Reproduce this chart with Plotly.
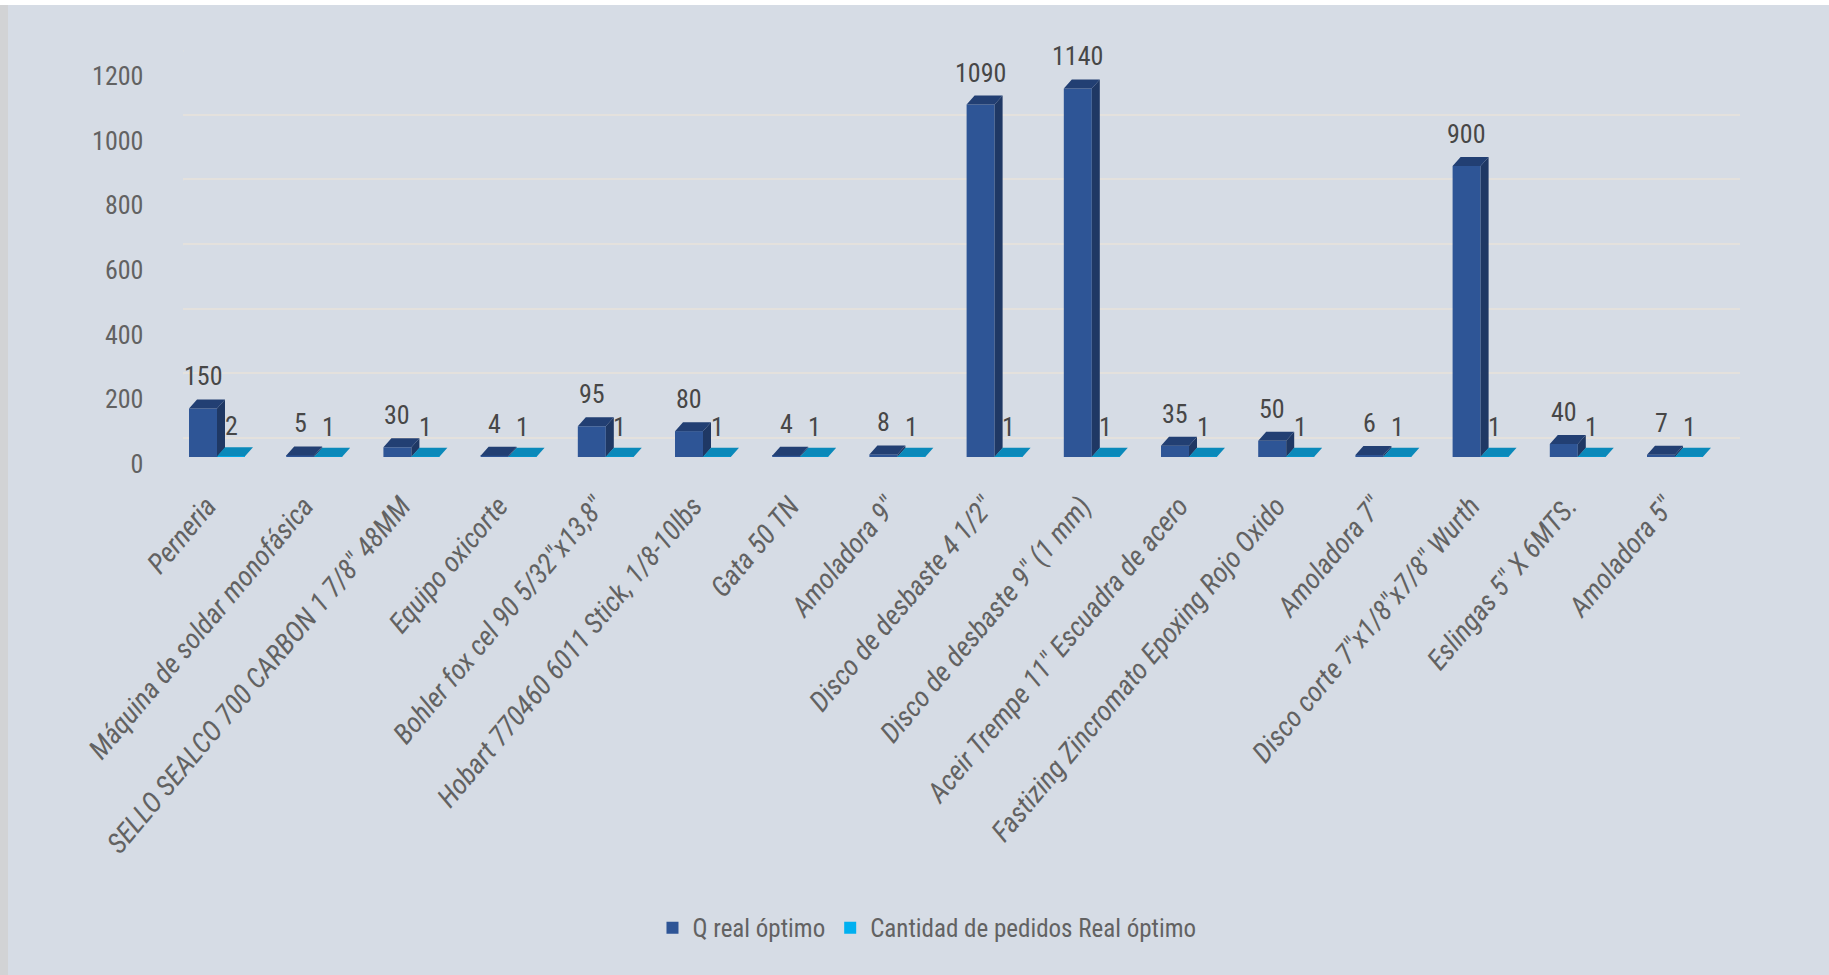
import plotly.graph_objects as go

# ---------------- data ----------------
categories = [
    "Perneria",
    "Máquina de soldar monofásica",
    'SELLO SEALCO 700 CARBON 1 7/8" 48MM',
    "Equipo oxicorte",
    'Bohler fox cel 90 5/32"x13,8"',
    "Hobart 770460 6011 Stick, 1/8-10lbs",
    "Gata 50 TN",
    'Amoladora 9"',
    'Disco de desbaste 4 1/2"',
    'Disco de desbaste 9" (1 mm)',
    'Aceir Trempe 11" Escuadra de acero',
    "Fastizing Zincromato Epoxing Rojo Oxido",
    'Amoladora 7"',
    'Disco corte 7"x1/8"x7/8" Wurth',
    'Eslingas 5" X 6MTS.',
    'Amoladora 5"',
]
q_real = [150, 5, 30, 4, 95, 80, 4, 8, 1090, 1140, 35, 50, 6, 900, 40, 7]
pedidos = [2, 1, 1, 1, 1, 1, 1, 1, 1, 1, 1, 1, 1, 1, 1, 1]
y_ticks = [0, 200, 400, 600, 800, 1000, 1200]

series_names = ["Q real óptimo", "Cantidad de pedidos Real óptimo"]

# ---------------- style ----------------
BG = "#D6DCE5"
GRID = "#E4E1DD"
Q_FRONT = "#2E5596"
Q_SIDE = "#1F3864"
Q_TOP = "#223F73"
C_LEG = "#00B0F0"
C_TOP = "#0A89BA"
C_SIDE = "#066F98"
TXT = "#626262"
LBL = "#474747"
NARROW = "Liberation Sans Narrow, Arial Narrow, Roboto Condensed, sans-serif"

W = 0.288     # bar width (category units)
DX = 0.0823   # 3D depth, x (category units)
DY = 27.8     # 3D depth, y (value units)

idx = list(range(len(categories)))
tick_text = ["<i>" + c + "</i>" for c in categories]


def faces(values, left, right):
    sx, sy, tx, ty = [], [], [], []
    for i, v in zip(idx, values):
        x0, x1 = i + left, i + right
        sx += [x1, x1 + DX, x1 + DX, x1, x1, None]
        sy += [0, DY, v + DY, v, 0, None]
        tx += [x0, x1, x1 + DX, x0 + DX, x0, None]
        ty += [v, v, v + DY, v + DY, v, None]
    return sx, sy, tx, ty


fig = go.Figure()

# dummy trace to register the back-wall (grid) subplot
fig.add_trace(go.Scatter(x=[], y=[], xaxis="x", yaxis="y", showlegend=False, hoverinfo="skip"))

# front faces
fig.add_trace(go.Bar(x=idx, y=q_real, name=series_names[0], marker=dict(color=Q_FRONT, line=dict(width=0)),
                     width=W, offset=-W, xaxis="x2", yaxis="y2"))
fig.add_trace(go.Bar(x=idx, y=pedidos, name=series_names[1], marker=dict(color=C_LEG, line=dict(width=0)),
                     width=W, offset=0, xaxis="x2", yaxis="y2"))

qsx, qsy, qtx, qty = faces(q_real, -W, 0)
csx, csy, ctx, cty = faces(pedidos, 0, W)
for fx, fy, col in [(qsx, qsy, Q_SIDE), (qtx, qty, Q_TOP), (csx, csy, C_SIDE), (ctx, cty, C_TOP)]:
    fig.add_trace(go.Scatter(x=fx, y=fy, mode="lines", fill="toself", fillcolor=col,
                             line=dict(width=0, color=col), showlegend=False, hoverinfo="skip",
                             xaxis="x2", yaxis="y2"))

annotations = []
for i, v in zip(idx, q_real):
    annotations.append(dict(x=i, y=v, xref="x2", yref="y2", text=str(v), showarrow=False,
                            xshift=-14, yshift=32, yanchor="middle",
                            font=dict(family=NARROW, size=26, color=LBL)))
for i, v in zip(idx, pedidos):
    annotations.append(dict(x=i, y=v, xref="x2", yref="y2", text=str(v), showarrow=False,
                            xshift=14, yshift=30, yanchor="middle",
                            font=dict(family=NARROW, size=26, color=LBL)))

shapes = []
for t in y_ticks:
    shapes.append(dict(type="line", xref="x", yref="y", xsizemode="pixel", ysizemode="pixel",
                       xanchor=0, yanchor=t, x0=-23, y0=-23, x1=0, y1=0,
                       line=dict(color=GRID, width=2), layer="below"))
# thin white strip on top and grey strip on the left of the picture
shapes.append(dict(type="rect", xref="paper", yref="paper", x0=-0.2, x1=1.2, y0=1.0814, y1=1.2,
                   fillcolor="white", line=dict(width=0), layer="below"))
shapes.append(dict(type="rect", xref="paper", yref="paper", x0=-0.2, x1=-0.0882, y0=-1.3, y1=1.0814,
                   fillcolor="#D2D3D5", line=dict(width=0), layer="below"))

fig.update_layout(
    width=1829, height=975,
    margin=dict(l=150, r=69, t=40, b=505),
    paper_bgcolor=BG, plot_bgcolor="rgba(0,0,0,0)",
    barmode="overlay",
    showlegend=True,
    xaxis=dict(domain=[0.0205, 0.98758], range=[0, 1], showgrid=False, zeroline=False,
               showticklabels=False, showline=False, ticks=""),
    yaxis=dict(domain=[0.07442, 0.97674], range=[0, 1200], tickvals=y_ticks, showgrid=True,
               gridcolor=GRID, gridwidth=2, zeroline=True, zerolinecolor=GRID, zerolinewidth=2,
               showticklabels=False, showline=False, ticks=""),
    xaxis2=dict(domain=[0.01143, 0.97739], anchor="y2", range=[-0.5, 15.5], tickmode="array",
                tickvals=idx, ticktext=tick_text, tickangle=-50, showgrid=False, zeroline=False,
                showline=False, ticks="", ticklabelstandoff=26, ticklabelshift=-10,
                tickfont=dict(family=NARROW, size=28, color=TXT, style="italic")),
    yaxis2=dict(domain=[0.03023, 0.93256], anchor="x2", range=[0, 1200], tickvals=y_ticks,
                showgrid=False, zeroline=False, showline=False, ticks="", ticklabelstandoff=24,
                ticklabelshift=7,
                tickfont=dict(family=NARROW, size=26, color=TXT)),
    legend=dict(orientation="h", x=0.4826, xanchor="center", y=-1.0651, yanchor="middle",
                bgcolor="rgba(0,0,0,0)", font=dict(family=NARROW, size=25, color=TXT)),
    annotations=annotations,
    shapes=shapes,
)

fig.write_html("out.html")
